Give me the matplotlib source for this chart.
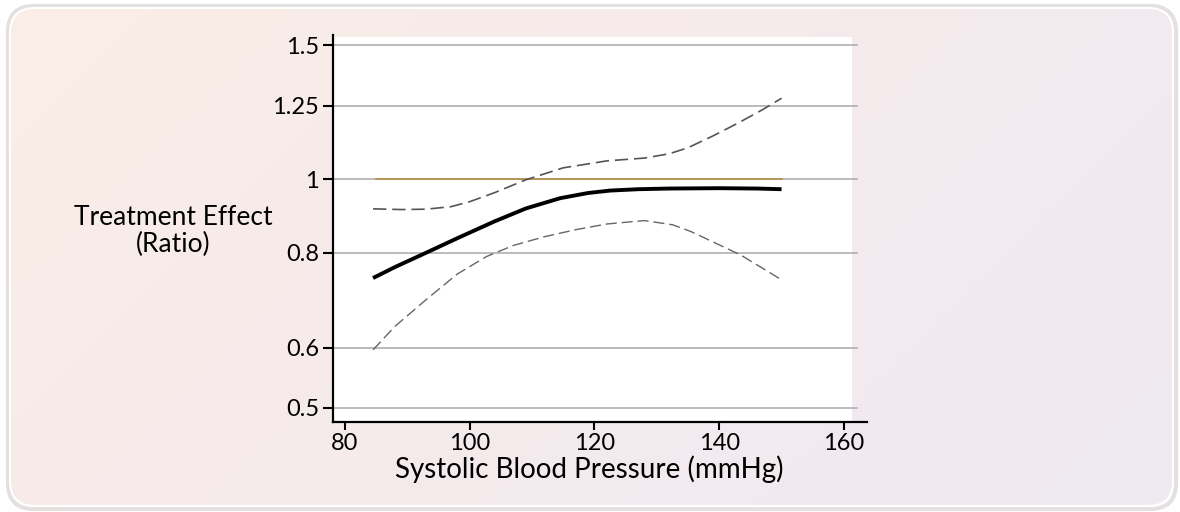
import matplotlib.pyplot as plt
import numpy as np
from matplotlib.patches import FancyBboxPatch, Rectangle

plt.rcParams['font.family'] = ['Lato', 'DejaVu Sans']

# values
sbp = [84.5, 88, 93, 98, 104, 109, 114.5, 119, 122.5, 127, 132, 140, 146, 150]
effect = [0.741, 0.766, 0.800, 0.836, 0.880, 0.915, 0.944, 0.959, 0.966, 0.970, 0.972, 0.973, 0.972, 0.970]

sbp_up = [84.5, 89, 93, 97, 100, 104, 109, 115, 122, 128, 132, 135, 139, 143, 147, 150]
upper = [0.914, 0.912, 0.913, 0.920, 0.934, 0.960, 0.998, 1.035, 1.057, 1.066, 1.080, 1.100, 1.140, 1.185, 1.235, 1.278]

sbp_lo = [84.5, 88, 93, 98, 102.7, 107, 112, 117, 122, 128, 132.5, 135.5, 138.3, 143.4, 147, 150]
lower = [0.596, 0.640, 0.694, 0.750, 0.791, 0.818, 0.840, 0.858, 0.873, 0.882, 0.871, 0.853, 0.832, 0.795, 0.763, 0.737]

ref_x = [85, 150]
ref_y = [1, 1]

yticks = [0.5, 0.6, 0.8, 1, 1.25, 1.5]
ytick_labels = ["0.5", "0.6", "0.8", "1", "1.25", "1.5"]
xticks = [80, 100, 120, 140, 160]

fig = plt.figure(figsize=(11.8, 5.12), dpi=100)
fig.patch.set_facecolor("white")

# rounded panel with soft gradient
bg = fig.add_axes([0, 0, 1, 1], zorder=-5)
bg.set_xlim(0, 1180)
bg.set_ylim(512, 0)
bg.axis("off")
shadow = FancyBboxPatch((8, 6), 1168, 503, boxstyle="round,pad=0,rounding_size=26",
                        fc="none", ec="#e4e0e0", lw=3)
bg.add_patch(shadow)
box = FancyBboxPatch((10, 8), 1163, 498, boxstyle="round,pad=0,rounding_size=25",
                     fc="none", ec="white", lw=1.5)
bg.add_patch(box)
gx, gy = np.meshgrid(np.linspace(0, 1, 200), np.linspace(0, 1, 100))
t = (gx * 0.7 + gy * 0.3)
c0 = np.array([251, 237, 230]) / 255
c1 = np.array([239, 233, 242]) / 255
grad = c0[None, None, :] * (1 - t[..., None]) + c1[None, None, :] * t[..., None]
im = bg.imshow(grad, extent=[10, 1173, 506, 8], aspect="auto", zorder=-1)
im.set_clip_path(box)

ax = fig.add_axes([333 / 1180, 1 - 422 / 512, 534 / 1180, 387 / 512])
ax.patch.set_visible(False)
ax.set_yscale("log")
ax.set_xlim(78.08, 163.7)
ax.set_ylim(0.479, 1.548)

ax.add_patch(Rectangle((0, 0), 0.972, 0.995, transform=ax.transAxes,
                       fc="white", ec="none", zorder=0))
for v in yticks:
    ax.axhline(v, xmin=0, xmax=0.981, color="#a8a8a8", lw=1.1, zorder=1)

ax.plot(ref_x, ref_y, color="#b58e45", lw=1.2, zorder=2)
ax.plot(sbp_up, upper, color="#555555", lw=1.2, dashes=(8, 3.5), zorder=3)
ax.plot(sbp_lo, lower, color="#666666", lw=1.0, dashes=(8, 3.5), zorder=3)
ax.plot(sbp, effect, color="black", lw=2.8, solid_capstyle="butt", zorder=4)

ax.set_yticks(yticks)
ax.set_yticklabels(ytick_labels)
ax.yaxis.set_minor_locator(plt.NullLocator())
ax.set_xticks(xticks)
ax.tick_params(axis="y", length=7, width=1.5, pad=3, labelsize=17)
ax.tick_params(axis="x", length=6, width=1.5, pad=2, labelsize=17)
for s in ["top", "right"]:
    ax.spines[s].set_visible(False)
for s in ["left", "bottom"]:
    ax.spines[s].set_linewidth(1.6)

ax.set_xlabel("Systolic Blood Pressure (mmHg)", fontsize=20)
ax.xaxis.set_label_coords(0.48, -0.085)
fig.text(173 / 1180, 1 - 231 / 512, "Treatment Effect\n(Ratio)", ha="center", va="center",
         fontsize=19, linespacing=1.05)

fig.savefig("out.png", dpi=100)
